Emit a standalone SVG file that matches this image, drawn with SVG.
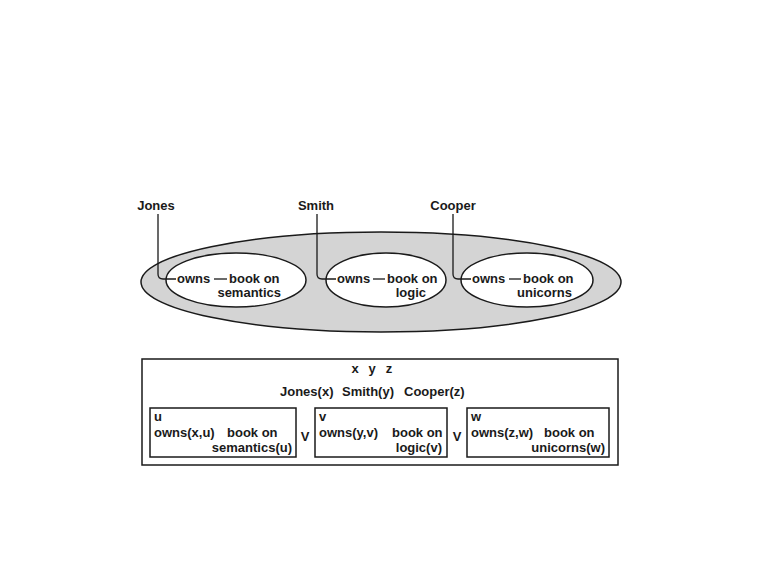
<svg xmlns="http://www.w3.org/2000/svg" width="760" height="570" viewBox="0 0 760 570">
<style>
text{font-family:"Liberation Sans",Arial,sans-serif;font-size:13px;font-weight:bold;fill:#1a1a1a}
.ol{fill:#d4d4d4;stroke:#1a1a1a;stroke-width:1.5}
.il{fill:#fff;stroke:#1a1a1a;stroke-width:1.5}
.bx{fill:#fff;stroke:#1a1a1a;stroke-width:1.5}
.cn{fill:none;stroke:#1a1a1a;stroke-width:1.3}
.m{text-anchor:middle}
.e{text-anchor:end}
</style>
<rect width="760" height="570" fill="#fff"/>
<g id="context">
<ellipse class="ol" cx="381" cy="282" rx="240" ry="50"/>
</g>
<g id="jones-ctx">
<ellipse class="il" cx="236" cy="280" rx="70" ry="27"/>
<text x="177" y="283">owns</text>
<text x="229" y="283">book on</text>
<text x="281" y="297" class="e">semantics</text>
</g>
<g id="smith-ctx">
<ellipse class="il" cx="386" cy="280" rx="60" ry="27"/>
<text x="337" y="283">owns</text>
<text x="387" y="283">book on</text>
<text x="426" y="297" class="e">logic</text>
</g>
<g id="cooper-ctx">
<ellipse class="il" cx="527" cy="280" rx="66" ry="27"/>
<text x="472" y="283">owns</text>
<text x="523" y="283">book on</text>
<text x="572" y="297" class="e">unicorns</text>
</g>
<g id="jones"><text x="156" y="210" class="m">Jones</text></g>
<g id="smith"><text x="316" y="210" class="m">Smith</text></g>
<g id="cooper"><text x="453" y="210" class="m">Cooper</text></g>
<g id="connectors">
<path class="cn" d="M158,214 V274 Q158,279 163,279 H176"/>
<path class="cn" d="M317,214 V274 Q317,279 322,279 H336"/>
<path class="cn" d="M453,214 V274 Q453,279 458,279 H471"/>
<path class="cn" d="M214,279 H227"/>
<path class="cn" d="M373,279 H385"/>
<path class="cn" d="M509,279 H521"/>
</g>
<g id="drs">
<rect class="bx" x="142" y="359" width="476" height="106"/>
<text x="355" y="373" class="m">x</text>
<text x="372" y="373" class="m">y</text>
<text x="389" y="373" class="m">z</text>
<text x="280" y="396">Jones(x)</text>
<text x="342" y="396">Smith(y)</text>
<text x="404" y="396">Cooper(z)</text>
<text x="305" y="441" class="m">V</text>
<text x="457" y="441" class="m">V</text>
</g>
<g id="box-u">
<rect class="bx" x="150" y="408" width="146" height="49"/>
<text x="154" y="421">u</text>
<text x="154" y="437">owns(x,u)</text>
<text x="227" y="437">book on</text>
<text x="292" y="452" class="e">semantics(u)</text>
</g>
<g id="box-v">
<rect class="bx" x="315" y="408" width="132" height="49"/>
<text x="319" y="421">v</text>
<text x="319" y="437">owns(y,v)</text>
<text x="392" y="437">book on</text>
<text x="442" y="452" class="e">logic(v)</text>
</g>
<g id="box-w">
<rect class="bx" x="467" y="408" width="142" height="49"/>
<text x="471" y="421">w</text>
<text x="471" y="437">owns(z,w)</text>
<text x="544" y="437">book on</text>
<text x="605" y="452" class="e">unicorns(w)</text>
</g>
</svg>
